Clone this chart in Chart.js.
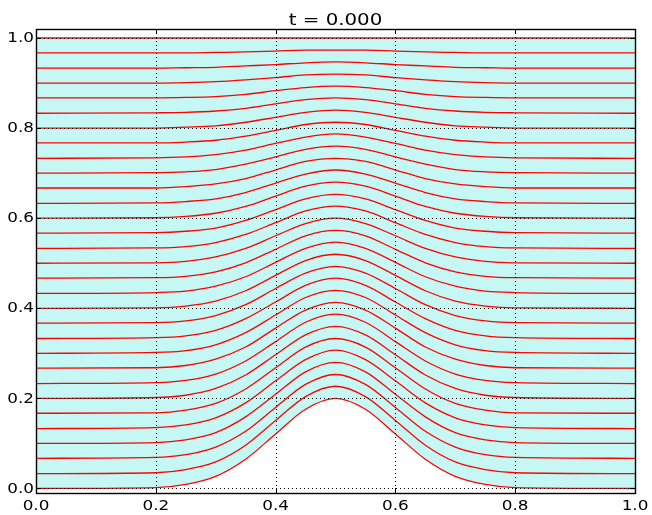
<!DOCTYPE html>
<html>
<head>
<meta charset="utf-8">
<script src="https://cdn.jsdelivr.net/npm/chart.js@4/dist/chart.umd.min.js"></script>
<style>
  body { margin: 0; background: #fff; }
  #wrap { width: 652px; height: 515px; }
</style>
</head>
<body>
<div id="wrap"><canvas id="flowChart"></canvas></div>
<script>
const title = "t = 0.000";
const xTicks = [0, 0.2, 0.4, 0.6, 0.8, 1.0];
const yTicks = [0, 0.2, 0.4, 0.6, 0.8, 1.0];
const xs = [0, 0.2, 0.25, 0.3, 0.35, 0.4, 0.45, 0.5, 0.55, 0.6, 0.65, 0.7, 0.75, 0.8, 1];

// one row per red line, bottom to top, read at the xs positions
const lines = [
  [0.000, 0.002, 0.009, 0.027, 0.065, 0.121, 0.176, 0.200, 0.176, 0.121, 0.065, 0.027, 0.009, 0.002, 0.000],
  [0.033, 0.035, 0.042, 0.059, 0.096, 0.151, 0.204, 0.227, 0.204, 0.151, 0.096, 0.059, 0.042, 0.035, 0.033],
  [0.067, 0.069, 0.075, 0.092, 0.127, 0.180, 0.231, 0.253, 0.231, 0.180, 0.127, 0.092, 0.075, 0.069, 0.067],
  [0.100, 0.102, 0.108, 0.124, 0.159, 0.209, 0.259, 0.280, 0.259, 0.209, 0.159, 0.124, 0.108, 0.102, 0.100],
  [0.133, 0.135, 0.141, 0.157, 0.190, 0.239, 0.286, 0.307, 0.286, 0.239, 0.190, 0.157, 0.141, 0.135, 0.133],
  [0.167, 0.168, 0.174, 0.189, 0.221, 0.268, 0.314, 0.333, 0.314, 0.268, 0.221, 0.189, 0.174, 0.168, 0.167],
  [0.200, 0.202, 0.207, 0.222, 0.252, 0.297, 0.341, 0.360, 0.341, 0.297, 0.252, 0.222, 0.207, 0.202, 0.200],
  [0.233, 0.235, 0.240, 0.254, 0.283, 0.326, 0.369, 0.387, 0.369, 0.326, 0.283, 0.254, 0.240, 0.235, 0.233],
  [0.267, 0.268, 0.273, 0.287, 0.314, 0.356, 0.396, 0.413, 0.396, 0.356, 0.314, 0.287, 0.273, 0.268, 0.267],
  [0.300, 0.302, 0.306, 0.319, 0.346, 0.385, 0.424, 0.440, 0.424, 0.385, 0.346, 0.319, 0.306, 0.302, 0.300],
  [0.333, 0.335, 0.339, 0.351, 0.377, 0.414, 0.451, 0.467, 0.451, 0.414, 0.377, 0.351, 0.339, 0.335, 0.333],
  [0.367, 0.368, 0.372, 0.384, 0.408, 0.444, 0.478, 0.493, 0.478, 0.444, 0.408, 0.384, 0.372, 0.368, 0.367],
  [0.400, 0.401, 0.405, 0.416, 0.439, 0.473, 0.506, 0.520, 0.506, 0.473, 0.439, 0.416, 0.405, 0.401, 0.400],
  [0.433, 0.435, 0.438, 0.449, 0.470, 0.502, 0.533, 0.547, 0.533, 0.502, 0.470, 0.449, 0.438, 0.435, 0.433],
  [0.467, 0.468, 0.471, 0.481, 0.501, 0.531, 0.561, 0.573, 0.561, 0.531, 0.501, 0.481, 0.471, 0.468, 0.467],
  [0.500, 0.501, 0.504, 0.514, 0.533, 0.561, 0.588, 0.600, 0.588, 0.561, 0.533, 0.514, 0.504, 0.501, 0.500],
  [0.533, 0.534, 0.537, 0.546, 0.564, 0.590, 0.616, 0.627, 0.616, 0.590, 0.564, 0.546, 0.537, 0.534, 0.533],
  [0.567, 0.568, 0.571, 0.578, 0.595, 0.619, 0.643, 0.653, 0.643, 0.619, 0.595, 0.578, 0.571, 0.568, 0.567],
  [0.600, 0.601, 0.604, 0.611, 0.626, 0.649, 0.671, 0.680, 0.671, 0.649, 0.626, 0.611, 0.604, 0.601, 0.600],
  [0.633, 0.634, 0.637, 0.643, 0.657, 0.678, 0.698, 0.707, 0.698, 0.678, 0.657, 0.643, 0.637, 0.634, 0.633],
  [0.667, 0.667, 0.670, 0.676, 0.688, 0.707, 0.726, 0.733, 0.726, 0.707, 0.688, 0.676, 0.670, 0.667, 0.667],
  [0.700, 0.701, 0.703, 0.708, 0.720, 0.736, 0.753, 0.760, 0.753, 0.736, 0.720, 0.708, 0.703, 0.701, 0.700],
  [0.733, 0.734, 0.736, 0.741, 0.751, 0.766, 0.780, 0.787, 0.780, 0.766, 0.751, 0.741, 0.736, 0.734, 0.733],
  [0.767, 0.767, 0.769, 0.773, 0.782, 0.795, 0.808, 0.813, 0.808, 0.795, 0.782, 0.773, 0.769, 0.767, 0.767],
  [0.800, 0.800, 0.802, 0.805, 0.813, 0.824, 0.835, 0.840, 0.835, 0.824, 0.813, 0.805, 0.802, 0.800, 0.800],
  [0.833, 0.834, 0.835, 0.838, 0.844, 0.854, 0.863, 0.867, 0.863, 0.854, 0.844, 0.838, 0.835, 0.834, 0.833],
  [0.867, 0.867, 0.868, 0.870, 0.875, 0.883, 0.890, 0.893, 0.890, 0.883, 0.875, 0.870, 0.868, 0.867, 0.867],
  [0.900, 0.900, 0.901, 0.903, 0.907, 0.912, 0.918, 0.920, 0.918, 0.912, 0.907, 0.903, 0.901, 0.900, 0.900],
  [0.933, 0.933, 0.934, 0.935, 0.938, 0.941, 0.945, 0.947, 0.945, 0.941, 0.938, 0.935, 0.934, 0.933, 0.933],
  [0.967, 0.967, 0.967, 0.968, 0.969, 0.971, 0.973, 0.973, 0.973, 0.971, 0.969, 0.968, 0.967, 0.967, 0.967],
  [1.000, 1.000, 1.000, 1.000, 1.000, 1.000, 1.000, 1.000, 1.000, 1.000, 1.000, 1.000, 1.000, 1.000, 1.000]
];

const FONT = '"DejaVu Sans", sans-serif';
const STRETCH = 1.2; // text in the reference is a bit wider than tall

function stretchedText(ctx, str, x, y, size, align, baseline) {
  ctx.save();
  ctx.translate(x, y);
  ctx.scale(STRETCH, 1);
  ctx.font = size + 'px ' + FONT;
  ctx.textAlign = align;
  ctx.textBaseline = baseline;
  ctx.fillText(str, 0, 0);
  ctx.restore();
}

// grid above the fill, frame, inward ticks, labels and title (matplotlib classic look)
const axesDecor = {
  id: 'axesDecor',
  afterDatasetsDraw(chart) {
    const { ctx, chartArea: a, scales: { x, y } } = chart;
    ctx.save();
    ctx.strokeStyle = '#000';
    ctx.lineWidth = 1;
    ctx.setLineDash([1, 3]);
    ctx.beginPath();
    xTicks.forEach(v => {
      const px = Math.round(x.getPixelForValue(v)) + 0.5;
      ctx.moveTo(px, a.top); ctx.lineTo(px, a.bottom);
    });
    yTicks.forEach(v => {
      const py = Math.round(y.getPixelForValue(v)) + 0.5;
      ctx.moveTo(a.left, py); ctx.lineTo(a.right, py);
    });
    ctx.stroke();

    ctx.setLineDash([]);
    ctx.beginPath();
    xTicks.forEach(v => {
      const px = Math.round(x.getPixelForValue(v)) + 0.5;
      ctx.moveTo(px, a.bottom); ctx.lineTo(px, a.bottom - 5);
      ctx.moveTo(px, a.top); ctx.lineTo(px, a.top + 5);
    });
    yTicks.forEach(v => {
      const py = Math.round(y.getPixelForValue(v)) + 0.5;
      ctx.moveTo(a.left, py); ctx.lineTo(a.left + 5, py);
      ctx.moveTo(a.right, py); ctx.lineTo(a.right - 5, py);
    });
    ctx.stroke();
    ctx.lineWidth = 1.4;
    ctx.strokeRect(a.left + 0.5, a.top + 0.5, a.right - a.left, a.bottom - a.top);

    ctx.fillStyle = '#000';
    yTicks.forEach(v => {
      stretchedText(ctx, v.toFixed(1), a.left - 2, y.getPixelForValue(v) + 0.5, 14, 'right', 'middle');
    });
    xTicks.forEach(v => {
      stretchedText(ctx, v.toFixed(1), x.getPixelForValue(v), a.bottom + 17, 14, 'center', 'alphabetic');
    });
    stretchedText(ctx, title, (a.left + a.right) / 2, a.top - 4, 16.5, 'center', 'alphabetic');
    ctx.restore();
  }
};

const datasets = lines.map((ys, i) => ({
  data: ys.map((v, j) => ({ x: xs[j], y: v })),
  borderColor: '#ff0000',
  borderWidth: 1.3,
  pointRadius: 0,
  cubicInterpolationMode: 'monotone',
  fill: i === lines.length - 1 ? 0 : false,
  backgroundColor: '#c5f8f4'
}));

new Chart(document.getElementById('flowChart'), {
  type: 'line',
  data: { datasets },
  options: {
    responsive: true,
    maintainAspectRatio: false,
    animation: false,
    events: [],
    layout: { padding: { top: 29, right: 17, left: 0, bottom: 0 } },
    plugins: {
      legend: { display: false },
      tooltip: { enabled: false },
      title: { display: false }
    },
    scales: {
      x: {
        type: 'linear', min: 0, max: 1,
        grid: { display: false }, border: { display: false },
        ticks: { display: false },
        afterBuildTicks: s => { s.ticks = xTicks.map(v => ({ value: v })); },
        afterFit: s => { s.height = 22; }
      },
      y: {
        type: 'linear', min: -0.01, max: 1.02,
        grid: { display: false }, border: { display: false },
        ticks: { display: false },
        afterBuildTicks: s => { s.ticks = yTicks.map(v => ({ value: v })); },
        afterFit: s => { s.width = 36; }
      }
    }
  },
  plugins: [axesDecor]
});
</script>
</body>
</html>
